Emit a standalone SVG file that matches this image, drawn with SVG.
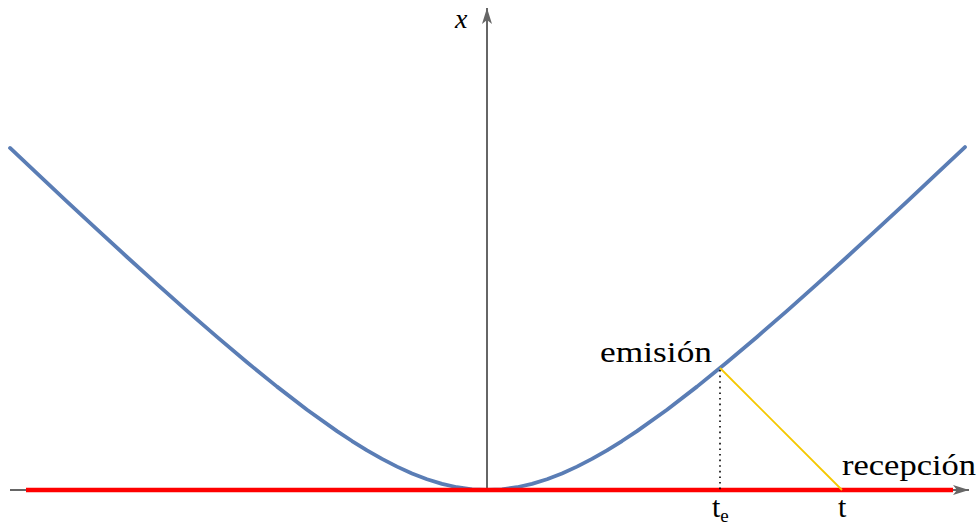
<svg xmlns="http://www.w3.org/2000/svg" width="980" height="528" viewBox="0 0 980 528">
<style>
.axis{stroke:#666;stroke-width:2;fill:none}
.lbl{font-family:"Liberation Serif","Times New Roman",serif;fill:#000}
</style>
<defs>
<marker id="ah" viewBox="0 0 16 10" refX="16" refY="5" markerWidth="16" markerHeight="10" markerUnits="userSpaceOnUse" orient="auto">
<path d="M0,0 L16,5 L0,10 L4,5 Z" fill="#666"/>
</marker>
</defs>
<rect width="980" height="528" fill="#fff"/>
<g id="connectors">
<line id="t-axis" class="axis" x1="10" y1="490" x2="969" y2="490" marker-end="url(#ah)"/>
<line id="x-axis" class="axis" x1="487" y1="490" x2="487" y2="8" marker-end="url(#ah)"/>
<path id="worldline" fill="none" stroke="#5A7DB5" stroke-width="3.8" stroke-linecap="round" stroke-linejoin="round" d="M10,147.97 L37,173.46 L67,201.58 L97,229.45 L127,256.99 L157,284.16 L187,310.84 L217,336.93 L247,362.27 L277,386.62 L307,409.7 L337,431.11 L352,441.03 L367,450.32 L382,458.88 L397,466.63 L412,473.44 L427,479.22 L442,483.85 L457,487.24 L472,489.31 L487,490 L502,489.31 L517,487.24 L532,483.85 L547,479.22 L562,473.44 L577,466.63 L592,458.88 L607,450.32 L622,441.03 L637,431.11 L667,409.7 L697,386.62 L727,362.27 L757,336.93 L787,310.84 L817,284.16 L847,256.99 L877,229.45 L907,201.58 L937,173.46 L965,147.02"/>
<line id="red-line" x1="26" y1="490" x2="953" y2="490" stroke="#FF0000" stroke-width="4.5"/>
<line id="light-ray" x1="720" y1="368" x2="842" y2="490" stroke="#F5C800" stroke-width="1.8"/>
<line id="drop" x1="720" y1="370" x2="720" y2="490" stroke="#000" stroke-width="1.6" stroke-dasharray="1.6 4"/>
</g>
<g id="label-x"><text class="lbl" x="455" y="28" font-size="28" font-style="italic">x</text></g>
<g id="label-emision"><text class="lbl" x="600" y="362" font-size="30" textLength="112" lengthAdjust="spacingAndGlyphs">emisión</text></g>
<g id="label-recepcion"><text class="lbl" x="842" y="475" font-size="30" textLength="134" lengthAdjust="spacingAndGlyphs">recepción</text></g>
<g id="label-te"><text class="lbl" x="712" y="517" font-size="30">t<tspan font-size="19" dy="5">e</tspan></text></g>
<g id="label-t"><text class="lbl" x="838" y="517" font-size="30">t</text></g>
</svg>
